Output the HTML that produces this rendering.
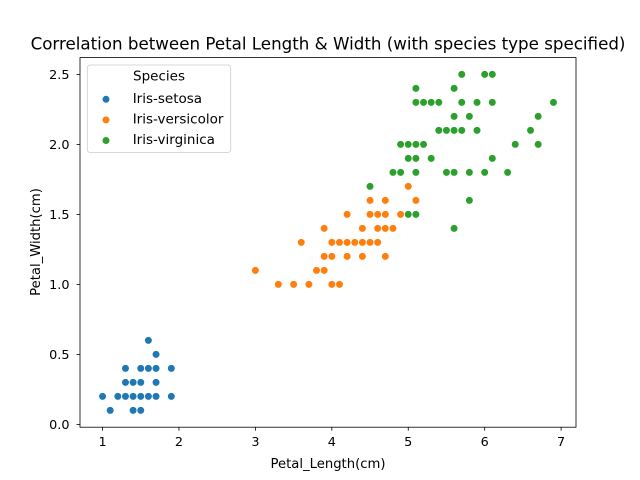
<!DOCTYPE html>
<html><head><meta charset="utf-8"><style>
html,body{margin:0;padding:0;background:#fff;}
svg{display:block;font-family:"DejaVu Sans","Liberation Sans",sans-serif;}
</style></head><body>
<svg id="chart" width="640" height="480" viewBox="0 0 640 480" xmlns="http://www.w3.org/2000/svg">
<rect width="640" height="480" fill="#fff"/>
<text x="328" y="49.5" font-size="16.7" text-anchor="middle">Correlation between Petal Length &amp; Width (with species type specified)</text>
<g id="marks"></g>
<rect x="80" y="57.6" width="496" height="369.6" fill="none" stroke="#000" stroke-width="0.8"/>
<g id="ticks"></g>
<text x="328" y="468" font-size="13.2" text-anchor="middle">Petal_Length(cm)</text>
<text transform="translate(40,242) rotate(-90)" font-size="13.2" text-anchor="middle">Petal_Width(cm)</text>
<g id="legend"></g>
</svg>
<script>
const species = ["Iris-setosa","Iris-versicolor","Iris-virginica"];
const colors = ["#1f77b4","#ff7f0e","#2ca02c"];
const setosaLen = [1.4,1.4,1.3,1.5,1.4,1.7,1.4,1.5,1.4,1.5,1.5,1.6,1.4,1.1,1.2,1.5,1.3,1.4,1.7,1.5,1.7,1.5,1.0,1.7,1.9,1.6,1.6,1.5,1.4,1.6,1.6,1.5,1.5,1.4,1.5,1.2,1.3,1.5,1.3,1.5,1.3,1.3,1.3,1.6,1.9,1.4,1.6,1.4,1.5,1.4];
const setosaWid = [0.2,0.2,0.2,0.2,0.2,0.4,0.3,0.2,0.2,0.1,0.2,0.2,0.1,0.1,0.2,0.4,0.4,0.3,0.3,0.3,0.2,0.4,0.2,0.5,0.2,0.2,0.4,0.2,0.2,0.2,0.2,0.4,0.1,0.2,0.1,0.2,0.2,0.1,0.2,0.2,0.3,0.3,0.2,0.6,0.4,0.3,0.2,0.2,0.2,0.2];
const versiLen = [4.7,4.5,4.9,4.0,4.6,4.5,4.7,3.3,4.6,3.9,3.5,4.2,4.0,4.7,3.6,4.4,4.5,4.1,4.5,3.9,4.8,4.0,4.9,4.7,4.3,4.4,4.8,5.0,4.5,3.5,3.8,3.7,3.9,5.1,4.5,4.5,4.7,4.4,4.1,4.0,4.4,4.6,4.0,3.3,4.2,4.2,4.2,4.3,3.0,4.1];
const versiWid = [1.4,1.5,1.5,1.3,1.5,1.3,1.6,1.0,1.3,1.4,1.0,1.5,1.0,1.4,1.3,1.4,1.5,1.0,1.5,1.1,1.8,1.3,1.5,1.2,1.3,1.4,1.4,1.7,1.5,1.0,1.1,1.0,1.2,1.6,1.5,1.6,1.5,1.3,1.3,1.3,1.2,1.4,1.2,1.0,1.3,1.2,1.3,1.3,1.1,1.3];
const virgLen = [6.0,5.1,5.9,5.6,5.8,6.6,4.5,6.3,5.8,6.1,5.1,5.3,5.5,5.0,5.1,5.3,5.5,6.7,6.9,5.0,5.7,4.9,6.7,4.9,5.7,6.0,4.8,4.9,5.6,5.8,6.1,6.4,5.6,5.1,5.6,6.1,5.6,5.5,4.8,5.4,5.6,5.1,5.1,5.9,5.7,5.2,5.0,5.2,5.4,5.1];
const virgWid = [2.5,1.9,2.1,1.8,2.2,2.1,1.7,1.8,1.8,2.5,2.0,1.9,2.1,2.0,2.4,2.3,1.8,2.2,2.3,1.5,2.3,2.0,2.0,1.8,2.1,1.8,1.8,1.8,2.1,1.6,1.9,2.0,2.2,1.5,1.4,2.3,2.4,1.8,1.8,2.1,2.4,2.3,1.9,2.3,2.5,2.3,1.9,2.0,2.3,1.8];
const xTicks = [1,2,3,4,5,6,7];
const yTicks = [0.0,0.5,1.0,1.5,2.0,2.5];
const yTickLabels = ["0.0","0.5","1.0","1.5","2.0","2.5"];

const NS="http://www.w3.org/2000/svg";
const L=80,R=576,T=57.6,B=427.2;
const xmin=0.705,xmax=7.195,ymin=-0.02,ymax=2.62;
function xs(v){return L+(v-xmin)/(xmax-xmin)*(R-L);}
function ys(v){return B-(v-ymin)/(ymax-ymin)*(B-T);}
function mk(tag,attrs,parent){const e=document.createElementNS(NS,tag);for(const k in attrs)e.setAttribute(k,attrs[k]);parent.appendChild(e);return e;}

const marks=document.getElementById('marks');
const series=[[setosaLen,setosaWid],[versiLen,versiWid],[virgLen,virgWid]];
series.forEach((s,i)=>{
  const g=mk('g',{},marks);
  
  
  s[0].forEach((x,j)=>{
    const c=mk('circle',{cx:xs(x),cy:ys(s[1][j]),r:3.8,fill:colors[i],stroke:'#fff','stroke-width':0.6},g);
    
    
  });
});

const ticks=document.getElementById('ticks');
xTicks.forEach(v=>{
  const x=xs(v);
  const l=mk('line',{x1:x,x2:x,y1:B,y2:B+3.5,stroke:'#000','stroke-width':0.8},ticks);
  
  
  const t=mk('text',{x:x,y:B+19,'font-size':12.8,'text-anchor':'middle'},ticks);
  t.textContent=v;
  
  
});
yTicks.forEach((v,i)=>{
  const y=ys(v);
  const l=mk('line',{x1:L-3.5,x2:L,y1:y,y2:y,stroke:'#000','stroke-width':0.8},ticks);
  
  
  const t=mk('text',{x:L-10.5,y:y+4.7,'font-size':12.8,'text-anchor':'end'},ticks);
  t.textContent=yTickLabels[i];
  
  
});

const lg=document.getElementById('legend');
mk('rect',{x:87.3,y:65,width:143.4,height:87.5,rx:3,fill:'#fff','fill-opacity':0.8,stroke:'#ccc','stroke-width':0.8},lg);
const lt=mk('text',{x:159,y:80.5,'font-size':13.5,'text-anchor':'middle'},lg);
lt.textContent='Species';


species.forEach((s,i)=>{
  const y=99.3+i*20.6;
  const g=mk('g',{},lg);
  
  
  mk('circle',{cx:106,cy:y,r:3.8,fill:colors[i],stroke:'#fff','stroke-width':0.6},g);
  const t=mk('text',{x:132.7,y:y+3.6,'font-size':13.5},g);
  t.textContent=s;
});
</script>
</body></html>
